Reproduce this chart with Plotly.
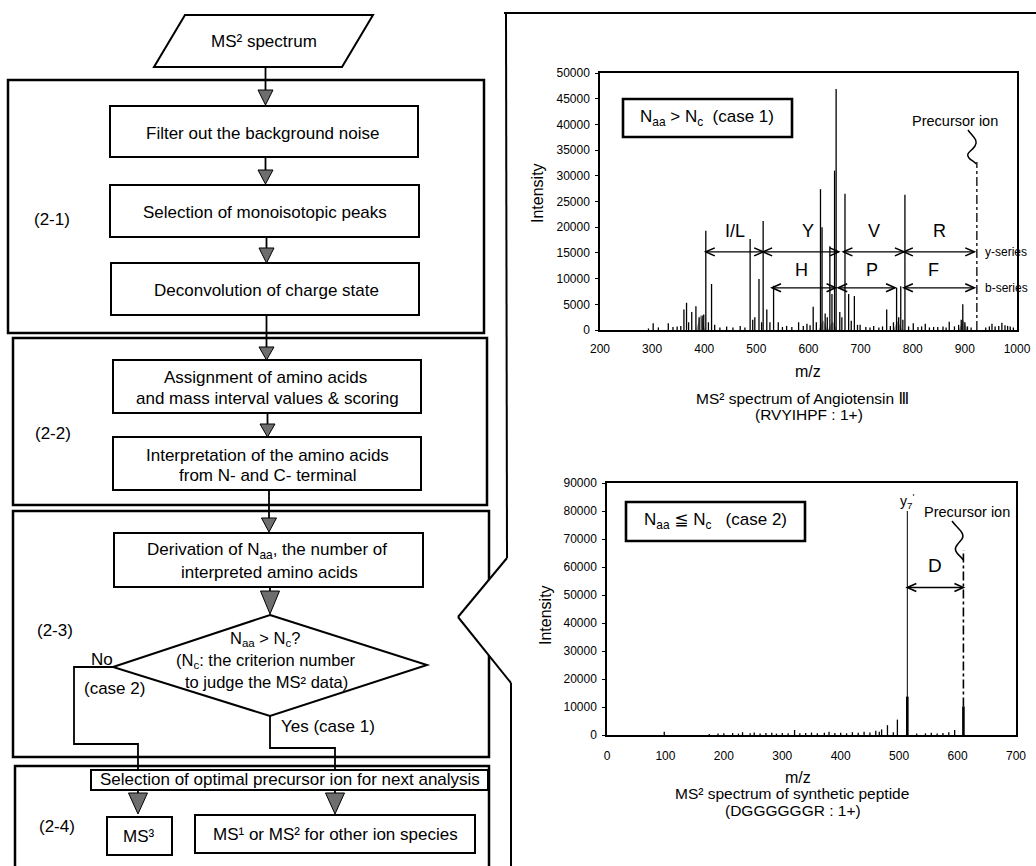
import plotly.graph_objects as go

W, H = 1036, 866
FONT = "Liberation Sans, Arial, Helvetica, DejaVu Sans, Noto Sans CJK JP, sans-serif"


def X(px):
    return px / W


def Y(py):
    return 1 - py / H


# ---------------- data: top spectrum (Angiotensin III) ----------------
top_mz = [293, 302, 312, 331, 340, 348, 355, 361, 366, 370, 376, 384, 390, 396, 399,
          403, 408, 414, 420, 430, 443, 455, 469, 478, 488, 493, 497, 505, 510, 513,
          520, 526, 533, 542, 550, 558, 568, 581, 590, 597, 603, 609, 615, 623, 626,
          632, 636, 641, 645, 650, 653, 660, 664, 670, 677, 682, 688, 694, 699, 710,
          718, 725, 735, 742, 750, 757, 763, 769, 773, 777, 781, 785, 792, 801, 810,
          817, 824, 832, 840, 848, 858, 864, 870, 880, 888, 893, 896, 900, 905, 912,
          940, 947, 952, 958, 965, 971, 977, 982, 987, 993]
top_int = [300, 1300, 500, 1300, 600, 700, 800, 4000, 5300, 1500, 3500, 4600, 2500, 2800, 3000,
           19300, 1500, 8950, 1000, 500, 700, 500, 800, 500, 17700, 2000, 2500, 9900, 1500, 21200,
           4000, 1500, 8600, 1500, 600, 800, 600, 1500, 800, 1200, 900, 4500, 1500, 27400, 20000,
           3200, 2500, 16300, 7000, 31000, 46900, 3500, 2500, 26500, 7000, 1800, 6600, 1000, 1000, 600,
           500, 800, 500, 700, 4000, 800, 1500, 8200, 2500, 8500, 2000, 26300, 700, 1300, 600,
           700, 1200, 500, 600, 600, 700, 500, 1600, 700, 1000, 2000, 5000, 1500, 700, 500,
           500, 700, 1200, 700, 800, 1400, 900, 800, 700, 500]
hump_mz = [393, 628, 646, 771, 897]
hump_int = [2800, 1800, 1600, 1600, 1800]
top_prec_mz = 923
top_prec_int = 32700

y_series_from = [403, 513, 667, 783]
y_series_to = [513, 658, 783, 918]
y_series_lbl = ["I/L", "Y", "V", "R"]
y_series_lbl_mz = [459, 599, 726, 851]
b_series_from = [530, 657, 783]
b_series_to = [652, 766, 918]
b_series_lbl = ["H", "P", "F"]
b_series_lbl_mz = [587, 721, 840]
y_arrow_int, y_label_int = 15200, 19300
b_arrow_int, b_label_int = 8200, 11700

# ---------------- data: bottom spectrum (synthetic peptide) ----------------
bot_mz = [98, 175, 190, 200, 215, 225, 232, 245, 252, 262, 272, 282, 290, 300, 310, 321,
          330, 340, 350, 360, 372, 380, 390, 400, 410, 420, 430, 440, 450, 460, 466, 470,
          480, 490, 497, 530, 545, 555, 565, 575, 585, 595]
bot_int = [1200, 400, 500, 600, 700, 500, 1000, 600, 900, 500, 700, 800, 500, 700, 600, 1800,
           600, 700, 900, 600, 800, 1200, 700, 800, 600, 1000, 800, 1200, 900, 1500, 1200, 2000,
           3500, 1000, 5500, 500, 600, 800, 500, 700, 1000, 1800]
bot_major_mz = [514, 610]
bot_major_int = [13700, 10200]
y7_mz, y7_top = 514, 80000
bot_prec_mz, bot_prec_top = 610, 66000
d_from, d_to, d_int = 514, 610, 52700


def sticks(mz, inten):
    xs, ys = [], []
    for m, v in zip(mz, inten):
        xs += [m, m, None]
        ys += [0, v, None]
    return xs, ys


fig = go.Figure()

HW = 8
for m, v in zip(hump_mz, hump_int):
    fig.add_trace(go.Scatter(x=[m - HW, m, m + HW], y=[0, v, 0], fill="toself",
                             fillcolor="#a0a0a0", line=dict(color="#808080", width=0.5),
                             mode="lines", xaxis="x", yaxis="y", hoverinfo="skip"))

xs, ys = sticks(top_mz, top_int)
fig.add_trace(go.Scatter(x=xs, y=ys, mode="lines", line=dict(color="black", width=1.3),
                         xaxis="x", yaxis="y", hoverinfo="skip"))
fig.add_trace(go.Scatter(x=[top_prec_mz, top_prec_mz], y=[0, top_prec_int], mode="lines",
                         line=dict(color="black", width=1.3, dash="dashdot"),
                         xaxis="x", yaxis="y", hoverinfo="skip"))

xs, ys = sticks(bot_mz, bot_int)
fig.add_trace(go.Scatter(x=xs, y=ys, mode="lines", line=dict(color="black", width=1.3),
                         xaxis="x2", yaxis="y2", hoverinfo="skip"))
xs, ys = sticks(bot_major_mz, bot_major_int)
fig.add_trace(go.Scatter(x=xs, y=ys, mode="lines", line=dict(color="black", width=2.6),
                         xaxis="x2", yaxis="y2", hoverinfo="skip"))
fig.add_trace(go.Scatter(x=[y7_mz, y7_mz], y=[0, y7_top], mode="lines",
                         line=dict(color="black", width=1),
                         xaxis="x2", yaxis="y2", hoverinfo="skip"))
fig.add_trace(go.Scatter(x=[bot_prec_mz, bot_prec_mz], y=[bot_major_int[1], bot_prec_top], mode="lines",
                         line=dict(color="black", width=1.6, dash="dashdot"),
                         xaxis="x2", yaxis="y2", hoverinfo="skip"))

shapes = []
annotations = []


def rect(x0, y0, x1, y1, w=2.0, fill="rgba(0,0,0,0)"):
    shapes.append(dict(type="rect", xref="paper", yref="paper", x0=X(x0), x1=X(x1),
                       y0=Y(y1), y1=Y(y0), line=dict(color="black", width=w), fillcolor=fill))


def seg(x0, y0, x1, y1, w=1.8):
    shapes.append(dict(type="line", xref="paper", yref="paper", x0=X(x0), x1=X(x1),
                       y0=Y(y0), y1=Y(y1), line=dict(color="black", width=w)))


def poly(pts, w=1.5, fill="rgba(0,0,0,0)", color="black", close=True):
    p = "M " + " L ".join(f"{X(a):.5f},{Y(b):.5f}" for a, b in pts) + (" Z" if close else "")
    shapes.append(dict(type="path", xref="paper", yref="paper", path=p,
                       line=dict(color=color, width=w), fillcolor=fill))


def curve(pts, w=1.5):
    p = f"M {X(pts[0][0]):.5f},{Y(pts[0][1]):.5f}"
    rest = pts[1:]
    for i in range(0, len(rest), 3):
        a, b, c = rest[i:i + 3]
        p += f" C {X(a[0]):.5f},{Y(a[1]):.5f} {X(b[0]):.5f},{Y(b[1]):.5f} {X(c[0]):.5f},{Y(c[1]):.5f}"
    shapes.append(dict(type="path", xref="paper", yref="paper", path=p,
                       line=dict(color="black", width=w)))


def tri(xc, ytop, ytip, half=7.5):
    poly([(xc - half, ytop), (xc + half, ytop), (xc, ytip)], w=1, fill="#6e6e6e")


def txt(s, x, y, size=17, anchor="center", angle=0):
    annotations.append(dict(text=s, x=X(x), y=Y(y), xref="paper", yref="paper", showarrow=False,
                            font=dict(size=size, family=FONT, color="black"),
                            xanchor=anchor, yanchor="middle", textangle=angle))


# ---------------- flowchart ----------------
rect(8, 80, 484, 333, w=2.5)
rect(13, 338, 487, 505, w=2.5)
rect(13, 511, 489, 757, w=2.5)
rect(15, 766, 489, 880, w=2.5)

poly([(185, 15), (373, 15), (342, 67), (154, 67)], w=2)

seg(265.5, 67, 265.5, 90)
tri(265.5, 90, 105)
seg(265.5, 157, 265.5, 170)
tri(265.5, 170, 184)
seg(266.5, 237, 266.5, 248)
tri(266.5, 248, 263)
seg(266.5, 315, 266.5, 347)
tri(266.5, 347, 360)
seg(267.5, 413, 267.5, 424)
tri(267.5, 424, 437)
seg(269, 490, 269, 518)
tri(269, 518, 532)
seg(270, 587, 270, 591)
tri(270, 591, 614, half=9.5)

poly([(270, 615), (427, 665), (270, 716), (113, 667)], w=2)

poly([(113, 667), (74, 667), (74, 744), (138, 744), (138, 793)], w=1.8, close=False)
poly([(270, 716), (270, 748), (335, 748), (335, 793)], w=1.8, close=False)
tri(138, 793, 814, half=9.5)
tri(335, 793, 814, half=9.5)

rect(110, 106, 418, 157)
rect(110, 185, 419, 237)
rect(111, 263, 419, 315)
rect(113, 360, 421, 413)
rect(113, 437, 421, 490)
rect(114, 533, 423, 587)
rect(91, 770, 488, 790, fill="white")
rect(107, 817, 172, 855)
rect(195, 815, 475, 853)

txt("MS² spectrum", 264, 42)
txt("Filter out the background noise", 262, 133)
txt("Selection of monoisotopic peaks", 265, 212)
txt("Deconvolution of charge state", 266, 290)
txt("Assignment of amino acids", 265, 377)
txt("and mass interval values &amp; scoring", 267, 398)
txt("Interpretation of the amino acids", 267, 455)
txt("from N- and C- terminal", 268, 475)
txt("Derivation of N<sub>aa</sub>, the number of", 267, 551)
txt("interpreted amino acids", 269, 572)
txt("N<sub>aa</sub> > N<sub>c</sub>?", 265, 639, size=16.5)
txt("(N<sub>c</sub>: the criterion number", 266, 661, size=16.5)
txt("to judge the MS² data)", 266, 682, size=16.5)
txt("No", 102, 659)
txt("(case 2)", 114, 688)
txt("Yes (case 1)", 328, 726)
txt("Selection of optimal precursor ion for next analysis", 290, 779)
txt("MS³", 139, 836)
txt("MS¹ or MS² for other ion species", 335, 834)
txt("(2-1)", 52, 220)
txt("(2-2)", 53, 433)
txt("(2-3)", 55, 630)
txt("(2-4)", 57, 826)

# ---------------- right panel frame + callout ----------------
poly([(507, 558), (458, 617), (511, 683)], w=0, fill="white", color="rgba(0,0,0,0)")
seg(504, 13, 1036, 13, w=2.2)
seg(506, 13, 507, 558, w=2)
seg(507, 558, 458, 617, w=2)
seg(458, 617, 511, 683, w=2)
seg(511, 683, 511, 880, w=2)

# ---------------- spectrum decorations ----------------
rect(623, 99, 792, 137, w=2.6)
txt("N<sub>aa</sub> > N<sub>c</sub>  (case 1)", 707, 118, size=17)
rect(626, 502, 805, 541, w=2.6)
txt("N<sub>aa</sub> ≦ N<sub>c</sub>   (case 2)", 715, 521, size=17)

txt("Intensity", 537, 193, size=16, angle=-90)
txt("Intensity", 545, 615, size=16, angle=-90)
txt("m/z", 808, 372, size=16)
txt("MS² spectrum of Angiotensin Ⅲ", 802, 398, size=15.5)
txt("(RVYIHPF : 1+)", 809, 414, size=15.5)
txt("m/z", 798, 777, size=16)
txt("MS² spectrum of synthetic peptide", 792, 793, size=15.5)
txt("(DGGGGGGR : 1+)", 793, 810, size=15.5)

txt("Precursor ion", 955, 121, size=14.5)
curve([(968, 130), (972, 136), (979, 140), (975, 146),
       (971, 152), (965, 153), (969, 158), (971, 161), (975, 161), (976, 164)], w=1.5)
txt("Precursor ion", 967, 512, size=14.5)
curve([(952, 521), (956, 527), (966, 533), (962, 539),
       (957, 545), (953, 548), (957, 553), (959, 556), (962, 557), (963, 560)], w=1.5)

# pixel -> data unit factors for the arrowhead size (styling only)
TOP_UX, TOP_UY = 800 / 417, 50000 / 257
BOT_UX, BOT_UY = 700 / 409, 90000 / 252


def darrow(x0, x1, yv, xr, yr, ux, uy, hl=9, hh=4):
    shapes.append(dict(type="line", xref=xr, yref=yr, x0=x0, x1=x1, y0=yv, y1=yv,
                       line=dict(color="black", width=1.4)))
    p = (f"M {x1 - hl * ux},{yv + hh * uy} L {x1},{yv} L {x1 - hl * ux},{yv - hh * uy} "
         f"M {x0 + hl * ux},{yv + hh * uy} L {x0},{yv} L {x0 + hl * ux},{yv - hh * uy}")
    shapes.append(dict(type="path", xref=xr, yref=yr, path=p,
                       line=dict(color="black", width=1.6)))


def dtext(s, x, y, xr, yr, size=18, anchor="center"):
    annotations.append(dict(text=s, x=x, y=y, xref=xr, yref=yr, showarrow=False,
                            font=dict(size=size, family=FONT, color="black"),
                            xanchor=anchor, yanchor="middle"))


for a, b, l, lm in zip(y_series_from, y_series_to, y_series_lbl, y_series_lbl_mz):
    darrow(a, b, y_arrow_int, "x", "y", TOP_UX, TOP_UY)
    dtext(l, lm, y_label_int, "x", "y")
for a, b, l, lm in zip(b_series_from, b_series_to, b_series_lbl, b_series_lbl_mz):
    darrow(a, b, b_arrow_int, "x", "y", TOP_UX, TOP_UY)
    dtext(l, lm, b_label_int, "x", "y")
dtext("y-series", 935, y_arrow_int, "x", "y", size=12, anchor="left")
dtext("b-series", 935, b_arrow_int, "x", "y", size=12, anchor="left")

darrow(d_from, d_to, d_int, "x2", "y2", BOT_UX, BOT_UY)
dtext("D", 562, 60600, "x2", "y2", size=19)
dtext("y<sub>7</sub><sup>'</sup>", y7_mz, 83500, "x2", "y2", size=14)

tickfont = dict(size=12, family=FONT, color="black")
axis_common = dict(showline=True, mirror=True, linecolor="black", linewidth=1.5,
                   showgrid=False, zeroline=False, tickfont=tickfont, automargin=False)

fig.update_layout(
    width=W, height=H, margin=dict(l=0, r=0, t=0, b=0, pad=0, autoexpand=False),
    paper_bgcolor="white", plot_bgcolor="white", showlegend=False,
    xaxis=dict(domain=[X(600), X(1017)], range=[200, 1000], tick0=200, dtick=100,
               ticks="outside", ticklen=3, tickcolor="rgba(0,0,0,0)", ticklabelstandoff=4,
               anchor="y", **axis_common),
    yaxis=dict(domain=[Y(330), Y(73)], range=[0, 50000], dtick=5000, tickformat="d",
               ticks="outside", ticklen=3, tickcolor="black", ticklabelstandoff=3,
               anchor="x", **axis_common),
    xaxis2=dict(domain=[X(607), X(1016)], range=[0, 700], tick0=0, dtick=100,
                ticks="outside", ticklen=3, tickcolor="rgba(0,0,0,0)", ticklabelstandoff=6,
                anchor="y2", **axis_common),
    yaxis2=dict(domain=[Y(735), Y(483)], range=[0, 90000], dtick=10000, tickformat="d",
                ticks="outside", ticklen=3, tickcolor="black", ticklabelstandoff=3,
                anchor="x2", **axis_common),
    shapes=shapes, annotations=annotations,
)

fig.write_html("out.html")
